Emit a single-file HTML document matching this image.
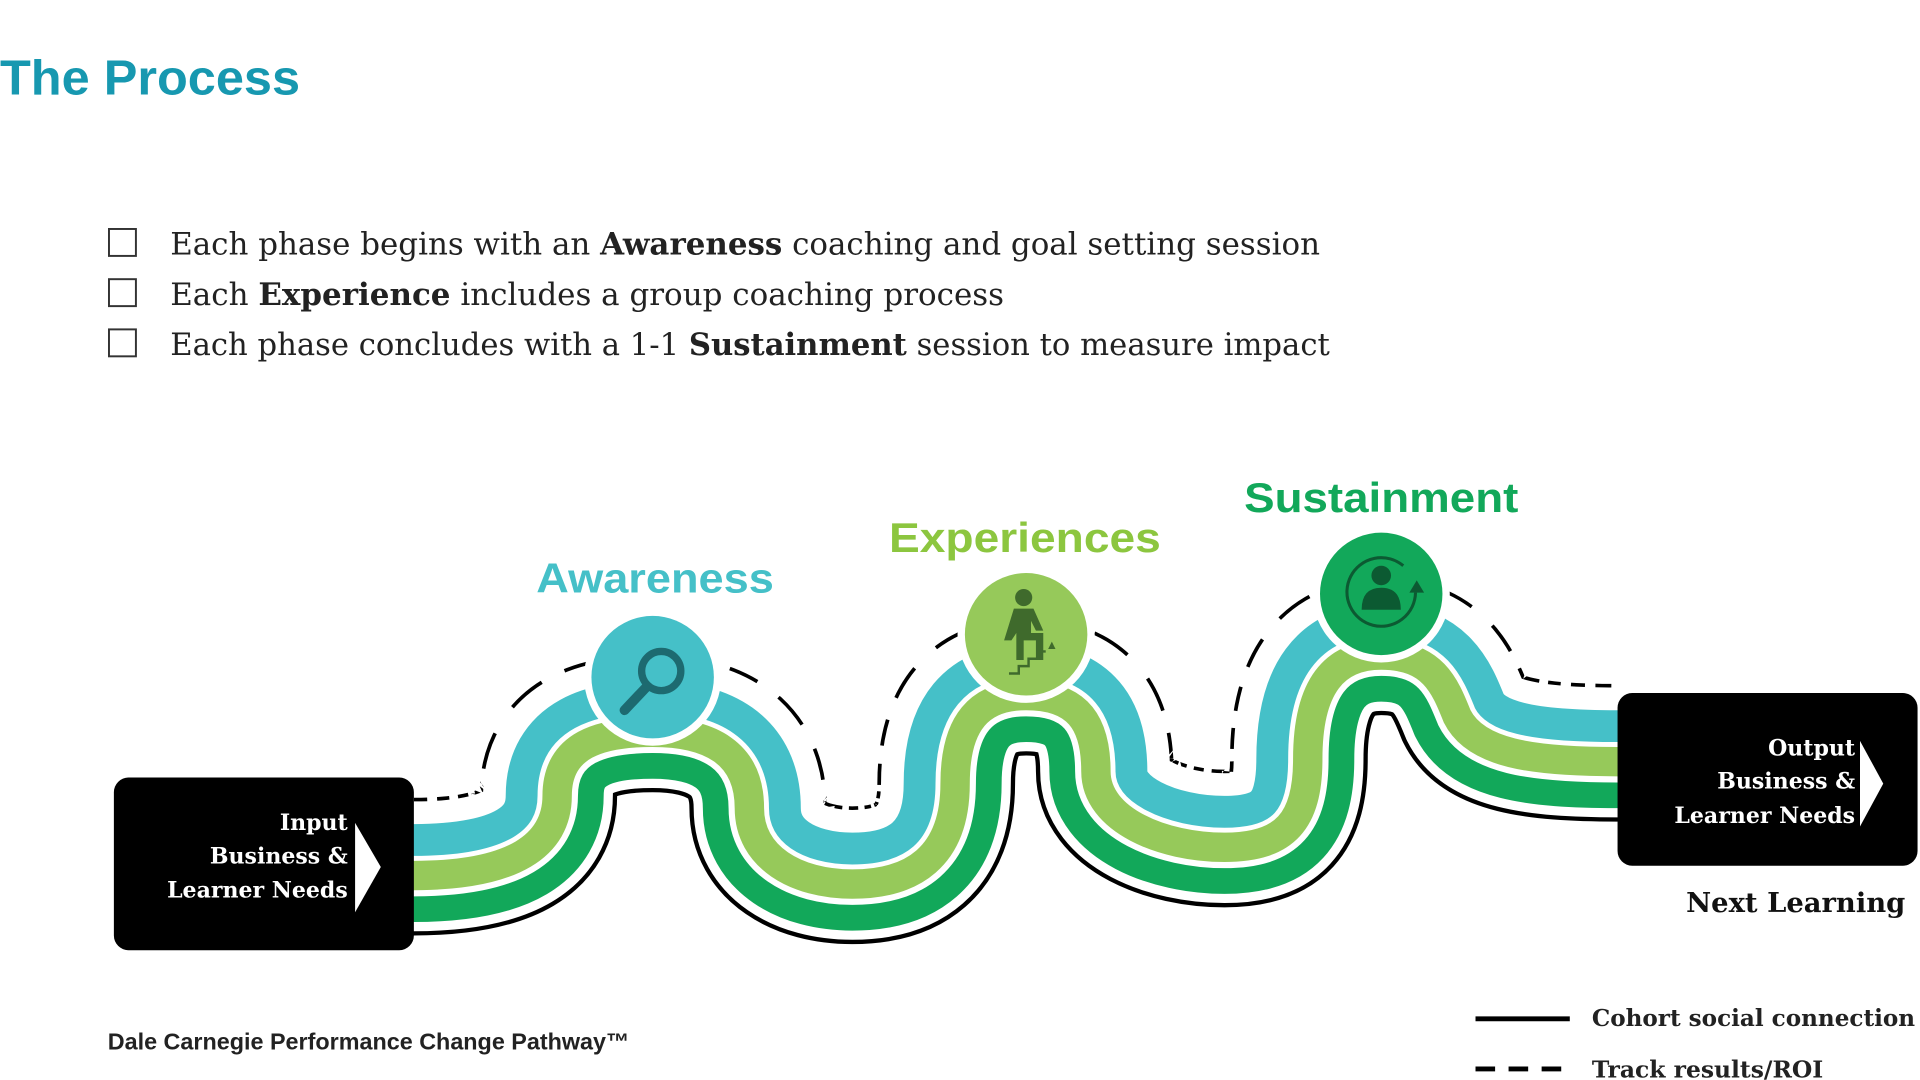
<!DOCTYPE html>
<html><head><meta charset="utf-8"><style>
html,body{margin:0;padding:0;background:#fff;overflow:hidden}
svg{display:block}
</style></head><body>
<svg width="1920" height="1080" viewBox="0 0 1568 882" preserveAspectRatio="none" xmlns="http://www.w3.org/2000/svg">
<defs>
<path id="cl" d="M200,715 L338,715 C420,715 455,690 455,650 C455,608 490,598 533,598 C580,598 612,615 612,660 C612,700 650,722 696,722 C745,722 780,700 780,640 C780,590 800,568 838,568 C880,568 895,590 895,630 C895,670 950,692 1000,692 C1050,692 1068,670 1068,620 C1068,560 1090,535 1128,535 C1170,535 1180,560 1190,585 C1205,615 1250,622 1321,622 L1450,622" fill="none"/>
<clipPath id="up"><path d="M200,715 L338,715 C420,715 455,690 455,650 C455,608 490,598 533,598 C580,598 612,615 612,660 C612,700 650,722 696,722 C745,722 780,700 780,640 C780,590 800,568 838,568 C880,568 895,590 895,630 C895,670 950,692 1000,692 C1050,692 1068,670 1068,620 C1068,560 1090,535 1128,535 C1170,535 1180,560 1190,585 C1205,615 1250,622 1321,622 L1450,622 L1450,0 L200,0 Z"/></clipPath>
<clipPath id="dn"><path d="M200,715 L338,715 C420,715 455,690 455,650 C455,608 490,598 533,598 C580,598 612,615 612,660 C612,700 650,722 696,722 C745,722 780,700 780,640 C780,590 800,568 838,568 C880,568 895,590 895,630 C895,670 950,692 1000,692 C1050,692 1068,670 1068,620 C1068,560 1090,535 1128,535 C1170,535 1180,560 1190,585 C1205,615 1250,622 1321,622 L1450,622 L1450,882 L200,882 Z"/></clipPath>
<clipPath id="lim"><rect x="338" y="0" width="982" height="882"/></clipPath>
<mask id="dash" maskUnits="userSpaceOnUse" x="0" y="0" width="1568" height="882">
<use href="#cl" stroke="#fff" stroke-width="140" stroke-dasharray="13,10"/>
</mask>
</defs>
<rect width="1568" height="882" fill="#fff"/>
<text x="0" y="77" font-family="Liberation Sans, sans-serif" font-weight="bold" font-size="40" fill="#1798b0" textLength="245" lengthAdjust="spacingAndGlyphs">The Process</text>

<g fill="none" stroke="#333" stroke-width="1.6">
<rect x="89" y="187" width="22" height="22"/>
<rect x="89" y="228" width="22" height="22"/>
<rect x="89" y="269" width="22" height="22"/>
</g>
<g font-family="DejaVu Serif, Liberation Serif, serif" font-size="25" fill="#222">
<text x="139" y="208" textLength="939" lengthAdjust="spacingAndGlyphs">Each phase begins with an <tspan font-weight="bold">Awareness</tspan> coaching and goal setting session</text>
<text x="139" y="249" textLength="681" lengthAdjust="spacingAndGlyphs">Each <tspan font-weight="bold">Experience</tspan> includes a group coaching process</text>
<text x="139" y="290" textLength="947" lengthAdjust="spacingAndGlyphs">Each phase concludes with a 1-1 <tspan font-weight="bold">Sustainment</tspan> session to measure impact</text>
</g>

<g clip-path="url(#lim)">
<g mask="url(#dash)">
<g clip-path="url(#up)">
<use href="#cl" stroke="#000" stroke-width="127"/>
<use href="#cl" stroke="#fff" stroke-width="121"/>
</g>
</g>
</g>
<g clip-path="url(#up)">
<use href="#cl" stroke="#45c0c8" stroke-width="84"/>
<use href="#cl" stroke="#fff" stroke-width="32"/>
</g>
<g clip-path="url(#dn)">
<use href="#cl" stroke="#000" stroke-width="98"/>
<use href="#cl" stroke="#fff" stroke-width="91"/>
<use href="#cl" stroke="#12a85a" stroke-width="76"/>
<use href="#cl" stroke="#fff" stroke-width="34"/>
</g>
<use href="#cl" stroke="#96c95a" stroke-width="24"/>

<circle cx="533" cy="553" r="56" fill="#fff"/>
<circle cx="533" cy="553" r="50" fill="#45c0c8"/>
<circle cx="540" cy="548" r="16" fill="none" stroke="#1d6a70" stroke-width="6"/>
<line x1="528" y1="561" x2="510" y2="580" stroke="#1d6a70" stroke-width="8" stroke-linecap="round"/>

<circle cx="838" cy="518" r="56" fill="#fff"/>
<circle cx="838" cy="518" r="50" fill="#96c95a"/>
<g fill="#3f6a2c">
<circle cx="836" cy="488" r="7"/>
<path d="M828,497 h16 l8,18 h-6 l-4,-8 v10 h10 v22 h-6 v-16 h-10 v16 h-6 v-22 l-4,6 h-6 z"/>
<path d="M824,550 h8 v-6 h8 v-6 h8 v-6 h6" fill="none" stroke="#3f6a2c" stroke-width="2"/>
<path d="M856,530 l3,-6 l3,6 z"/>
</g>

<circle cx="1128" cy="485" r="56" fill="#fff"/>
<circle cx="1128" cy="485" r="50" fill="#12a85a"/>
<g fill="#0c5a32">
<circle cx="1128" cy="470" r="8"/>
<path d="M1112,498 q0,-18 16,-18 q16,0 16,18 z"/>
<path d="M1156,484 a28,28 0 1 1 -10,-22" fill="none" stroke="#0c5a32" stroke-width="2.5"/>
<path d="M1151,484 l6,-10 l6,10 z"/>
</g>

<g font-family="Liberation Sans, sans-serif" font-weight="bold" font-size="34" text-anchor="middle">
<text x="535" y="484" fill="#45c0c8" textLength="194" lengthAdjust="spacingAndGlyphs">Awareness</text>
<text x="837" y="451" fill="#8cc63f" textLength="222" lengthAdjust="spacingAndGlyphs">Experiences</text>
<text x="1128" y="418" fill="#12a85a" textLength="224" lengthAdjust="spacingAndGlyphs">Sustainment</text>
</g>

<rect x="93" y="635" width="245" height="141" rx="12" fill="#000"/>
<path d="M290,672 L311,708 L290,745 Z" fill="#fff"/>
<rect x="1321" y="566" width="245" height="141" rx="12" fill="#000"/>
<path d="M1519,605 L1538,640 L1519,675 Z" fill="#fff"/>
<g font-family="DejaVu Serif, Liberation Serif, serif" font-weight="bold" font-size="18" fill="#fff" text-anchor="end">
<text x="284" y="678">Input</text>
<text x="284" y="705">Business &amp;</text>
<text x="284" y="733">Learner Needs</text>
<text x="1515" y="617">Output</text>
<text x="1515" y="644">Business &amp;</text>
<text x="1515" y="672">Learner Needs</text>
</g>
<text x="1377" y="745" font-family="DejaVu Serif, Liberation Serif, serif" font-weight="bold" font-size="22" fill="#111" textLength="179" lengthAdjust="spacingAndGlyphs">Next Learning</text>

<text x="88" y="857" font-family="Liberation Sans, sans-serif" font-weight="bold" font-size="19" fill="#222" textLength="426" lengthAdjust="spacingAndGlyphs">Dale Carnegie Performance Change Pathway™</text>
<line x1="1205" y1="832" x2="1282" y2="832" stroke="#000" stroke-width="4"/>
<line x1="1205" y1="873" x2="1282" y2="873" stroke="#000" stroke-width="4" stroke-dasharray="16,11"/>
<g font-family="DejaVu Serif, Liberation Serif, serif" font-weight="bold" font-size="19" fill="#222">
<text x="1300" y="838" textLength="264" lengthAdjust="spacingAndGlyphs">Cohort social connection</text>
<text x="1300" y="880" textLength="189" lengthAdjust="spacingAndGlyphs">Track results/ROI</text>
</g>
</svg>
</body></html>
